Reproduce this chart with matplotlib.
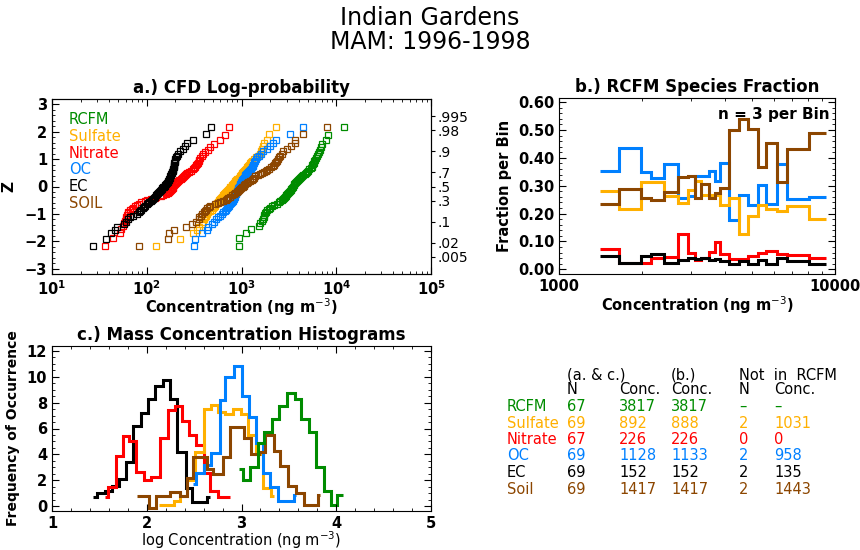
import matplotlib
matplotlib.use('Agg')
import matplotlib.pyplot as plt
import matplotlib.ticker as mticker
import numpy as np
from statistics import NormalDist

plt.rcParams['font.family'] = 'DejaVu Sans'

# ---- colours / species ----
species = ['RCFM', 'Sulfate', 'Nitrate', 'OC', 'EC', 'SOIL']
colors = {'RCFM': '#008c00', 'Sulfate': '#ffb000', 'Nitrate': '#ff0000',
          'OC': '#0080ff', 'EC': '#000000', 'SOIL': '#8c4600'}

# ---- a.) sorted concentrations (ng m-3) ----
rcfm_conc = [935, 940, 1115, 1255, 1515, 1560, 1650, 1690, 1710, 1730, 1770, 1830,
             1880, 1950, 2020, 2090, 2200, 2350, 2470, 2560, 2650, 2740, 2800, 2860,
             2920, 2970, 3030, 3100, 3170, 3240, 3300, 3370, 3430, 3480, 3540, 3600,
             3680, 3760, 3840, 3920, 4000, 4120, 4250, 4380, 4500, 4650, 4780, 4900,
             5050, 5200, 5350, 5490, 5600, 5700, 5780, 5850, 5950, 6100, 6250, 6400,
             6550, 6700, 6850, 7100, 7760, 8100, 12000]
sulfate_conc = [126, 224, 308, 340, 360, 380, 392, 400, 410, 420, 430, 445, 470, 490,
                500, 512, 524, 536, 548, 560, 572, 585, 598, 612, 625, 640, 655, 672,
                690, 705, 720, 735, 748, 760, 772, 785, 800, 815, 830, 845, 860, 880,
                905, 930, 955, 980, 1000, 1020, 1045, 1070, 1095, 1120, 1145, 1170,
                1200, 1230, 1260, 1300, 1340, 1420, 1500, 1560, 1610, 1650, 1680, 1720,
                1850, 1960, 2330]
nitrate_conc = [36, 44, 52, 53, 56, 58, 59, 60, 61, 62, 63, 64, 66, 70, 72, 75, 78,
                82, 88, 95, 100, 110, 122, 126, 140, 150, 160, 168, 172, 176, 180, 184,
                187, 190, 194, 198, 203, 208, 214, 220, 232, 238, 244, 250, 256, 262,
                268, 278, 292, 305, 316, 322, 330, 338, 345, 352, 360, 368, 380, 395,
                410, 440, 468, 508, 600, 675, 745]
oc_conc = [318, 325, 380, 431, 448, 489, 510, 540, 570, 600, 620, 645, 670, 690, 705,
           720, 740, 760, 778, 795, 805, 815, 825, 835, 845, 855, 865, 878, 890, 902,
           912, 920, 928, 935, 945, 955, 965, 975, 985, 995, 1005, 1020, 1040, 1060,
           1080, 1100, 1120, 1140, 1170, 1200, 1230, 1260, 1290, 1310, 1330, 1350,
           1370, 1390, 1410, 1450, 1540, 1600, 1700, 1870, 1990, 2130, 2290, 3230, 4420]
ec_conc = [27, 37, 42, 46, 49, 57, 61, 64, 67, 72, 78, 82, 85, 88, 91, 94, 97, 100,
           103, 106, 110, 113, 116, 119, 122, 125, 128, 132, 135, 138, 141, 144, 146,
           148, 151, 154, 157, 160, 163, 166, 169, 171, 173, 175, 177, 179, 181, 183,
           185, 187, 189, 191, 192, 193, 194, 195, 197, 199, 201, 205, 210, 216, 225,
           240, 255, 268, 310, 425, 480]
soil_conc = [82, 168, 172, 192, 259, 300, 330, 353, 360, 372, 385, 400, 415, 425, 435,
             450, 470, 520, 560, 600, 640, 680, 700, 720, 750, 790, 830, 860, 890, 915,
             940, 965, 990, 1010, 1030, 1050, 1070, 1100, 1130, 1180, 1230, 1280, 1320,
             1350, 1400, 1480, 1560, 1650, 1720, 1800, 1880, 1960, 2050, 2150, 2200,
             2250, 2300, 2350, 2400, 2470, 2550, 2650, 2750, 3000, 3300, 3630, 3700,
             4450, 7930]
cfd_data = {'RCFM': rcfm_conc, 'Sulfate': sulfate_conc, 'Nitrate': nitrate_conc,
            'OC': oc_conc, 'EC': ec_conc, 'SOIL': soil_conc}

prob_labels = ['.995', '.98', '.9', '.7', '.5', '.3', '.1', '.02', '.005']
prob_values = [0.995, 0.98, 0.9, 0.7, 0.5, 0.3, 0.1, 0.02, 0.005]

# ---- b.) species fraction per RCFM bin (n = 3 per bin) ----
frac_edges = [1407, 1650, 1982, 2157, 2392, 2699, 2933, 3118, 3280, 3486, 3686,
              3822, 4120, 4507, 4850, 5273, 5640, 6183, 6725, 8060, 9270]
frac_oc = [0.354, 0.437, 0.351, 0.329, 0.378, 0.257, 0.262, 0.335, 0.335, 0.354,
           0.318, 0.383, 0.177, 0.265, 0.232, 0.302, 0.235, 0.378, 0.254, 0.260]
frac_soil = [0.235, 0.289, 0.255, 0.250, 0.277, 0.333, 0.336, 0.256, 0.305, 0.256,
             0.274, 0.291, 0.500, 0.540, 0.502, 0.368, 0.452, 0.315, 0.432, 0.488]
frac_sulfate = [0.280, 0.215, 0.312, 0.312, 0.262, 0.237, 0.283, 0.316, 0.267, 0.267,
                0.267, 0.232, 0.255, 0.128, 0.190, 0.230, 0.215, 0.210, 0.228, 0.182]
frac_nitrate = [0.072, 0.024, 0.024, 0.042, 0.045, 0.128, 0.058, 0.035, 0.040, 0.063,
                0.098, 0.055, 0.038, 0.038, 0.048, 0.058, 0.066, 0.055, 0.050, 0.040]
frac_ec = [0.048, 0.022, 0.046, 0.055, 0.024, 0.034, 0.042, 0.036, 0.042, 0.034,
           0.036, 0.028, 0.019, 0.028, 0.019, 0.034, 0.019, 0.040, 0.028, 0.019]

# ---- c.) smoothed histograms of log concentration: (edges, heights) ----
hist_ec_edges = [1.43, 1.48, 1.56, 1.63, 1.71, 1.78, 1.85, 1.94, 2.01, 2.09, 2.17,
                 2.25, 2.32, 2.41, 2.48, 2.64, 2.67]
hist_ec = [0.7, 1.0, 1.2, 1.6, 2.1, 3.4, 6.2, 7.2, 8.3, 9.3, 9.7, 8.3, 4.2, 1.4,
           0.35, 0.7]
hist_nitrate_edges = [1.56, 1.59, 1.675, 1.745, 1.815, 1.89, 1.97, 2.05, 2.14, 2.22,
                      2.30, 2.37, 2.45, 2.52, 2.60, 2.67, 2.75, 2.81, 2.88]
hist_nitrate = [0.7, 1.5, 3.9, 5.4, 5.0, 2.65, 2.0, 2.3, 5.3, 7.4, 7.7, 6.6, 5.5,
                4.7, 2.6, 1.2, 0.75, 0.75]
hist_sulfate_edges = [2.13, 2.29, 2.35, 2.42, 2.51, 2.60, 2.68, 2.75, 2.83, 2.91,
                      2.99, 3.07, 3.15, 3.23, 3.31, 3.34]
hist_sulfate = [0.1, 0.45, 0.8, 2.0, 4.2, 7.5, 7.8, 7.3, 7.1, 7.5, 7.1, 5.5, 4.0,
                1.4, 0.8]
hist_oc_edges = [2.49, 2.52, 2.60, 2.68, 2.77, 2.83, 2.925, 3.00, 3.076, 3.158,
                 3.23, 3.306, 3.39, 3.553, 3.57]
hist_oc = [1.75, 2.6, 3.2, 4.1, 8.2, 10.0, 10.8, 8.5, 6.9, 4.9, 2.6, 1.5, 0.45, 0.9]
hist_soil_edges = [1.90, 2.02, 2.10, 2.25, 2.35, 2.42, 2.49, 2.635, 2.70, 2.80,
                   2.875, 3.023, 3.10, 3.18, 3.25, 3.34, 3.41, 3.49, 3.57, 3.66,
                   3.81, 3.83]
hist_soil = [0.8, -0.1, 0.8, 1.1, 0.8, 2.2, 3.8, 2.9, 2.5, 3.8, 6.1, 5.3, 4.0, 4.2,
             5.5, 4.3, 3.1, 1.6, 1.0, 0.1, 0.9]
hist_rcfm_edges = [2.97, 3.017, 3.094, 3.17, 3.235, 3.32, 3.40, 3.476, 3.56, 3.63,
                   3.71, 3.79, 3.87, 3.94, 4.01, 4.066]
hist_rcfm = [2.9, 2.0, 3.0, 4.9, 5.7, 6.7, 7.7, 8.7, 8.3, 6.7, 5.7, 3.0, 1.2, 0.1, 0.9]

# ---- table ----
table_species = ['RCFM', 'Sulfate', 'Nitrate', 'OC', 'EC', 'Soil']
table_n = ['67', '69', '67', '69', '69', '69']
table_conc_ac = ['3817', '892', '226', '1128', '152', '1417']
table_conc_b = ['3817', '888', '226', '1133', '152', '1417']
table_not_n = ['\u2013', '2', '0', '2', '2', '2']
table_not_conc = ['\u2013', '1031', '0', '958', '135', '1443']

W, H = 860, 550
fig = plt.figure(figsize=(W / 100, H / 100), dpi=100)


def px_axes(l, t, r, b):
    return fig.add_axes([l / W, 1 - b / H, (r - l) / W, (b - t) / H])


def style_axes(a, right=True):
    a.tick_params(which='both', direction='in', top=True, right=right, labelsize=TICK)
    a.tick_params(which='major', length=5)
    a.tick_params(which='minor', length=2.5)
    for lab in a.get_xticklabels() + a.get_yticklabels():
        lab.set_fontweight('bold')


bold = dict(fontweight='bold')
TICK = 10.5

fig.text(0.5, 1 - 18 / H, 'Indian Gardens', ha='center', va='center', fontsize=17)
fig.text(0.5, 1 - 42 / H, 'MAM: 1996-1998', ha='center', va='center', fontsize=17)

# ================= a.) CFD log-probability =================
ax = px_axes(52, 99, 431, 274)
nd = NormalDist()
for sp in species:
    vals = np.sort(np.array(cfd_data[sp], dtype=float))
    n = len(vals)
    z = [nd.inv_cdf(i / (n + 1)) for i in range(1, n + 1)]
    ax.plot(vals, z, 's', mfc='none', mec=colors[sp], ms=4, mew=0.9)
ax.set_xscale('log')
ax.set_xlim(10, 1e5)
ax.set_ylim(-3.2, 3.2)
ax.yaxis.set_major_locator(mticker.MultipleLocator(1))
ax.yaxis.set_minor_locator(mticker.MultipleLocator(0.2))
style_axes(ax, right=False)
ax.set_title('a.) CFD Log-probability', fontsize=12, pad=4, **bold)
ax.set_xlabel('Concentration (ng m$^{-3}$)', fontsize=10.5, labelpad=-1, **bold)
ax.set_ylabel('Z', fontsize=11, labelpad=6, **bold)
for k, sp in enumerate(species):
    fig.text(69 / W, 1 - (120 + 16.6 * k) / H, sp, color=colors[sp], fontsize=10.5,
             va='center', ha='left')

ax2 = ax.twinx()
ax2.set_ylim(ax.get_ylim())
ax2.set_yticks([nd.inv_cdf(p) for p in prob_values])
ax2.set_yticklabels(prob_labels)
ax2.tick_params(axis='y', direction='out', length=3, labelsize=10, pad=2)

# ================= b.) RCFM species fraction =================
bx = px_axes(559, 98, 835, 274)
for vals, sp in [(frac_oc, 'OC'), (frac_sulfate, 'Sulfate'), (frac_soil, 'SOIL'),
                 (frac_nitrate, 'Nitrate'), (frac_ec, 'EC')]:
    bx.stairs(vals, frac_edges, color=colors[sp], lw=2.2, baseline=None)
bx.set_xscale('log')
bx.set_xlim(1000, 10000)
bx.set_ylim(-0.017, 0.615)
bx.xaxis.set_major_locator(mticker.FixedLocator([1000, 10000]))
bx.xaxis.set_major_formatter(mticker.FixedFormatter(['1000', '10000']))
bx.xaxis.set_minor_formatter(mticker.NullFormatter())
bx.yaxis.set_major_locator(mticker.MultipleLocator(0.1))
bx.yaxis.set_minor_locator(mticker.MultipleLocator(0.02))
bx.yaxis.set_major_formatter(mticker.FormatStrFormatter('%.2f'))
style_axes(bx)
bx.set_title('b.) RCFM Species Fraction', fontsize=12, pad=4, **bold)
bx.set_xlabel('Concentration (ng m$^{-3}$)', fontsize=10.5, labelpad=0, **bold)
bx.set_ylabel('Fraction per Bin', fontsize=10.5, labelpad=4, **bold)
bx.text(0.98, 0.95, 'n = 3 per Bin', transform=bx.transAxes, ha='right', va='top',
        fontsize=11, **bold)

# ================= c.) mass concentration histograms =================
cx = px_axes(52, 346, 431, 511)
for edges, vals, sp in [(hist_ec_edges, hist_ec, 'EC'),
                        (hist_nitrate_edges, hist_nitrate, 'Nitrate'),
                        (hist_sulfate_edges, hist_sulfate, 'Sulfate'),
                        (hist_oc_edges, hist_oc, 'OC'),
                        (hist_soil_edges, hist_soil, 'SOIL'),
                        (hist_rcfm_edges, hist_rcfm, 'RCFM')]:
    cx.stairs(vals, edges, color=colors[sp], lw=2.2, baseline=None)
cx.set_xlim(1, 5)
cx.set_ylim(-0.35, 12.35)
cx.xaxis.set_major_locator(mticker.MultipleLocator(1))
cx.xaxis.set_minor_locator(mticker.MultipleLocator(0.2))
cx.yaxis.set_major_locator(mticker.MultipleLocator(2))
cx.yaxis.set_minor_locator(mticker.MultipleLocator(0.5))
style_axes(cx)
cx.set_title('c.) Mass Concentration Histograms', fontsize=12, pad=4, **bold)
cx.set_xlabel('log Concentration (ng m$^{-3}$)', fontsize=10.5, labelpad=-1)
cx.set_ylabel('Frequency of Occurrence', fontsize=10, labelpad=5, **bold)

# ================= table =================
tcolors = [colors[s] for s in species]
cols_x = [567, 619, 671, 739, 774]
fs = 10.5


def ptext(x, y, s, c='black'):
    fig.text(x / W, 1 - y / H, s, color=c, fontsize=fs, ha='left', va='center')


ptext(567, 375, '(a. & c.)')
ptext(671, 375, '(b.)')
ptext(739, 375, 'Not  in  RCFM')
for x, s in zip(cols_x, ['N', 'Conc.', 'Conc.', 'N', 'Conc.']):
    ptext(x, 390, s)
for k in range(len(table_species)):
    y = 406.5 + 16.5 * k
    c = tcolors[k]
    ptext(507, y, table_species[k], c)
    row = [table_n[k], table_conc_ac[k], table_conc_b[k], table_not_n[k],
           table_not_conc[k]]
    for x, s in zip(cols_x, row):
        ptext(x, y, s, c)

fig.savefig('out.png', dpi=100, facecolor='white')
